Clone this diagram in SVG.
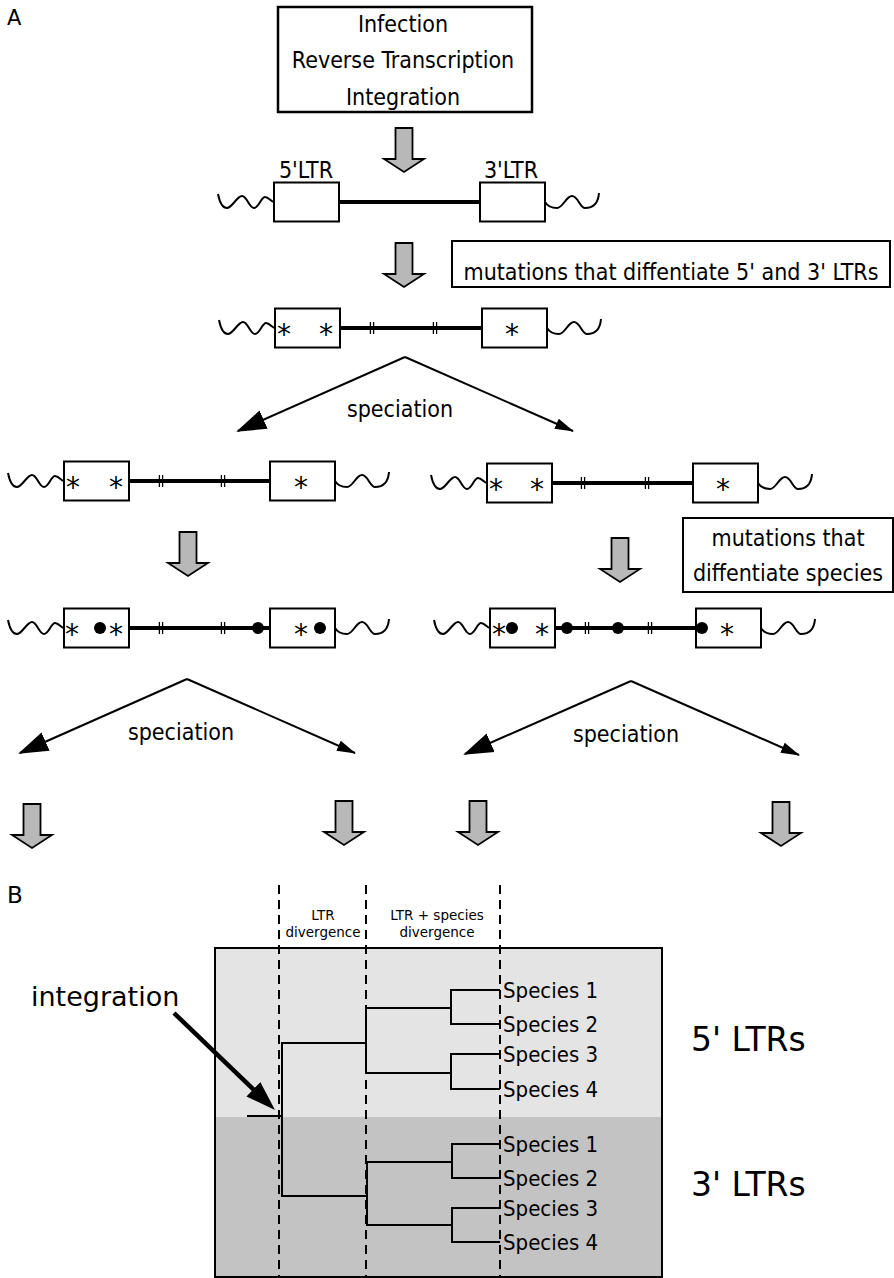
<svg xmlns="http://www.w3.org/2000/svg" xmlns:xlink="http://www.w3.org/1999/xlink" width="894" height="1278" viewBox="0 0 894 1278">
<style>
text{font-family:"DejaVu Sans",Verdana,sans-serif;fill:#000}
.cond{font-family:"DejaVu Sans Condensed","DejaVu Sans",sans-serif;font-size:23px}
.c{text-anchor:middle}
.box{fill:#fff;stroke:#000;stroke-width:2}
.dna{stroke:#000;stroke-width:4;fill:none}
.wave{fill:none;stroke:#000;stroke-width:2}
.ast{font-size:28px;text-anchor:middle}
.spec{stroke:#000;stroke-width:2;fill:none}
.tree{stroke:#000;stroke-width:2;fill:none}
.dash{stroke:#000;stroke-width:2;stroke-dasharray:9 6}
.sp{font-family:"DejaVu Sans Condensed","DejaVu Sans",sans-serif;font-size:22px}
.small{font-size:13.5px;text-anchor:middle}
.big{font-size:33px}
</style>
<defs>
<path id="wl" d="M-56,-8 C-54,2 -51,6 -47,6 C-42,6 -37,-6 -32,-6 C-27,-6 -25,6 -20,6 C-15,6 -13,-5 -9,-5 C-5,-5 -3,0 0,0"/>
<path id="wr" d="M0,0 C3,5 7,6 12,6 C18,6 21,-6 27,-6 C33,-6 35,6 40,6 C46,6 53,4 54,-9"/>
<g id="tk" stroke="#000" stroke-width="1.3"><line x1="-1.6" y1="-6" x2="-1.6" y2="6"/><line x1="1.6" y1="-6" x2="1.6" y2="6"/></g>
<polygon id="garrow" points="-8.5,0 8.5,0 8.5,31 20,31 0,44 -20,31 -8.5,31" fill="#b8b8b8" stroke="#000" stroke-width="1.8" stroke-linejoin="miter"/>
<marker id="hb" markerUnits="userSpaceOnUse" markerWidth="32" markerHeight="22" refX="28" refY="11" orient="auto"><path d="M0,1 L30,11 L0,21 z" fill="#000"/></marker>
<marker id="hs" markerUnits="userSpaceOnUse" markerWidth="20" markerHeight="12" refX="18" refY="6" orient="auto"><path d="M0,0.5 L19,6 L0,11.5 z" fill="#000"/></marker>
<marker id="hi" markerUnits="userSpaceOnUse" markerWidth="32" markerHeight="22" refX="20" refY="10" orient="auto"><path d="M0,0 L30,10 L0,20 z" fill="#000"/></marker>
</defs>

<text x="7" y="25" style="font-size:21px">A</text>
<text x="7" y="903" style="font-size:23px">B</text>

<g id="top-box">
<rect x="278" y="7" width="254" height="105" fill="#fff" stroke="#000" stroke-width="2.5"/>
<text class="cond c" x="403" y="32">Infection</text>
<text class="cond c" x="403" y="68">Reverse Transcription</text>
<text class="cond c" x="403" y="105">Integration</text>
</g>

<g id="ltr-row1">
<line class="dna" x1="339" y1="202" x2="480" y2="202"/>
<rect class="box" x="274" y="182.5" width="65" height="39"/>
<rect class="box" x="480" y="182.5" width="65" height="39"/>
<use xlink:href="#wl" x="274" y="202" class="wave"/>
<use xlink:href="#wr" x="545" y="202" class="wave"/>
<text class="cond c" x="306" y="178">5'LTR</text>
<text class="cond c" x="511" y="178">3'LTR</text>
</g>

<g id="mutations-ltr-box">
<rect class="box" x="452" y="241" width="438" height="46"/>
<text class="cond c" x="671" y="280">mutations that diffentiate 5' and 3' LTRs</text>
</g>

<g id="ltr-row2">
<line class="dna" x1="340" y1="328" x2="482" y2="328"/>
<rect class="box" x="275" y="308.5" width="65" height="39"/>
<rect class="box" x="482" y="308.5" width="65" height="39"/>
<use xlink:href="#wl" x="275" y="328" class="wave"/>
<use xlink:href="#wr" x="547" y="328" class="wave"/>
<use xlink:href="#tk" x="372" y="328"/>
<use xlink:href="#tk" x="435" y="328"/>
<text class="ast" x="284" y="344">*</text>
<text class="ast" x="326" y="344">*</text>
<text class="ast" x="512" y="344">*</text>
</g>

<g id="ltr-row3-left">
<line class="dna" x1="129" y1="481" x2="270" y2="481"/>
<rect class="box" x="64" y="461.5" width="65" height="39"/>
<rect class="box" x="270" y="461.5" width="65" height="39"/>
<use xlink:href="#wl" x="64" y="481" class="wave"/>
<use xlink:href="#wr" x="335" y="481" class="wave"/>
<use xlink:href="#tk" x="161" y="481"/>
<use xlink:href="#tk" x="223" y="481"/>
<text class="ast" x="73" y="497">*</text>
<text class="ast" x="116" y="497">*</text>
<text class="ast" x="301" y="497">*</text>
</g>

<g id="ltr-row3-right">
<line class="dna" x1="552" y1="483" x2="693" y2="483"/>
<rect class="box" x="487" y="463.5" width="65" height="39"/>
<rect class="box" x="693" y="463.5" width="65" height="39"/>
<use xlink:href="#wl" x="487" y="483" class="wave"/>
<use xlink:href="#wr" x="758" y="483" class="wave"/>
<use xlink:href="#tk" x="583" y="483"/>
<use xlink:href="#tk" x="647" y="483"/>
<text class="ast" x="496" y="499">*</text>
<text class="ast" x="537" y="499">*</text>
<text class="ast" x="723" y="499">*</text>
</g>

<g id="mutations-species-box">
<rect class="box" x="683" y="518" width="210" height="74"/>
<text class="cond c" x="788" y="546">mutations that</text>
<text class="cond c" x="788" y="581">diffentiate species</text>
</g>

<g id="ltr-row4-left">
<line class="dna" x1="129" y1="628" x2="270" y2="628"/>
<rect class="box" x="64" y="608.5" width="65" height="39"/>
<rect class="box" x="270" y="608.5" width="65" height="39"/>
<use xlink:href="#wl" x="64" y="628" class="wave"/>
<use xlink:href="#wr" x="335" y="628" class="wave"/>
<use xlink:href="#tk" x="161" y="628"/>
<use xlink:href="#tk" x="223" y="628"/>
<text class="ast" x="72" y="644">*</text>
<text class="ast" x="116" y="644">*</text>
<text class="ast" x="301" y="644">*</text>
<circle cx="100" cy="628" r="6"/>
<circle cx="258" cy="628" r="6"/>
<circle cx="320" cy="628" r="6"/>
</g>

<g id="ltr-row4-right">
<line class="dna" x1="555" y1="628" x2="696" y2="628"/>
<rect class="box" x="490" y="608.5" width="65" height="39"/>
<rect class="box" x="696" y="608.5" width="65" height="39"/>
<use xlink:href="#wl" x="490" y="628" class="wave"/>
<use xlink:href="#wr" x="761" y="628" class="wave"/>
<use xlink:href="#tk" x="587" y="628"/>
<use xlink:href="#tk" x="650" y="628"/>
<text class="ast" x="499" y="644">*</text>
<text class="ast" x="542" y="644">*</text>
<text class="ast" x="727" y="644">*</text>
<circle cx="512" cy="628" r="6"/>
<circle cx="567" cy="628" r="6"/>
<circle cx="618" cy="628" r="6"/>
<circle cx="702" cy="628" r="6"/>
</g>

<g id="connectors">
<use xlink:href="#garrow" x="404" y="128"/>
<use xlink:href="#garrow" x="404" y="243"/>
<use xlink:href="#garrow" x="188" y="532"/>
<use xlink:href="#garrow" x="620" y="538"/>
<use xlink:href="#garrow" x="32" y="804"/>
<use xlink:href="#garrow" x="344" y="801"/>
<use xlink:href="#garrow" x="478" y="801"/>
<use xlink:href="#garrow" x="781" y="802"/>
<line class="spec" x1="405" y1="357" x2="238" y2="431" marker-end="url(#hb)"/>
<line class="spec" x1="405" y1="357" x2="573" y2="431" marker-end="url(#hs)"/>
<line class="spec" x1="187" y1="679" x2="20" y2="753" marker-end="url(#hb)"/>
<line class="spec" x1="187" y1="679" x2="355" y2="753" marker-end="url(#hs)"/>
<line class="spec" x1="631" y1="681" x2="465" y2="754" marker-end="url(#hb)"/>
<line class="spec" x1="631" y1="681" x2="799" y2="755" marker-end="url(#hs)"/>
<text class="cond c" x="400" y="417">speciation</text>
<text class="cond c" x="181" y="740">speciation</text>
<text class="cond c" x="626" y="742">speciation</text>
</g>

<g id="panel-b">
<rect x="215" y="948" width="447" height="169" fill="#e4e4e4"/>
<rect x="215" y="1117" width="447" height="160" fill="#c3c3c3"/>
<rect x="215" y="948" width="447" height="329" fill="none" stroke="#000" stroke-width="2"/>
<g id="tree">
<path class="tree" d="M247,1116 H282"/>
<path class="tree" d="M366,1043 H282 V1196 H367"/>
<path class="tree" d="M451,1008 H366 V1073 H451"/>
<path class="tree" d="M500,990 H451 V1024 H500"/>
<path class="tree" d="M500,1054 H451 V1089 H500"/>
<path class="tree" d="M452,1162 H367 V1225 H452"/>
<path class="tree" d="M500,1144 H452 V1178 H500"/>
<path class="tree" d="M500,1208 H452 V1242 H500"/>
</g>
<line class="dash" x1="279" y1="885" x2="279" y2="1278"/>
<line class="dash" x1="366" y1="885" x2="366" y2="1278"/>
<line class="dash" x1="500" y1="885" x2="500" y2="1278"/>
<text class="small" x="323" y="920">LTR</text>
<text class="small" x="323" y="937">divergence</text>
<text class="small" x="437" y="920">LTR + species</text>
<text class="small" x="437" y="937">divergence</text>
<g id="species-labels">
<text class="sp" x="503" y="998">Species 1</text>
<text class="sp" x="503" y="1032">Species 2</text>
<text class="sp" x="503" y="1062">Species 3</text>
<text class="sp" x="503" y="1097">Species 4</text>
<text class="sp" x="503" y="1152">Species 1</text>
<text class="sp" x="503" y="1186">Species 2</text>
<text class="sp" x="503" y="1216">Species 3</text>
<text class="sp" x="503" y="1250">Species 4</text>
</g>
<text class="big" x="691" y="1051">5' LTRs</text>
<text class="big" x="691" y="1196">3' LTRs</text>
<g id="integration-label">
<text x="31" y="1006" style="font-size:27px">integration</text>
<line x1="174" y1="1013" x2="267.8" y2="1103.1" stroke="#000" stroke-width="4.5" marker-end="url(#hi)"/>
</g>
</g>
</svg>
